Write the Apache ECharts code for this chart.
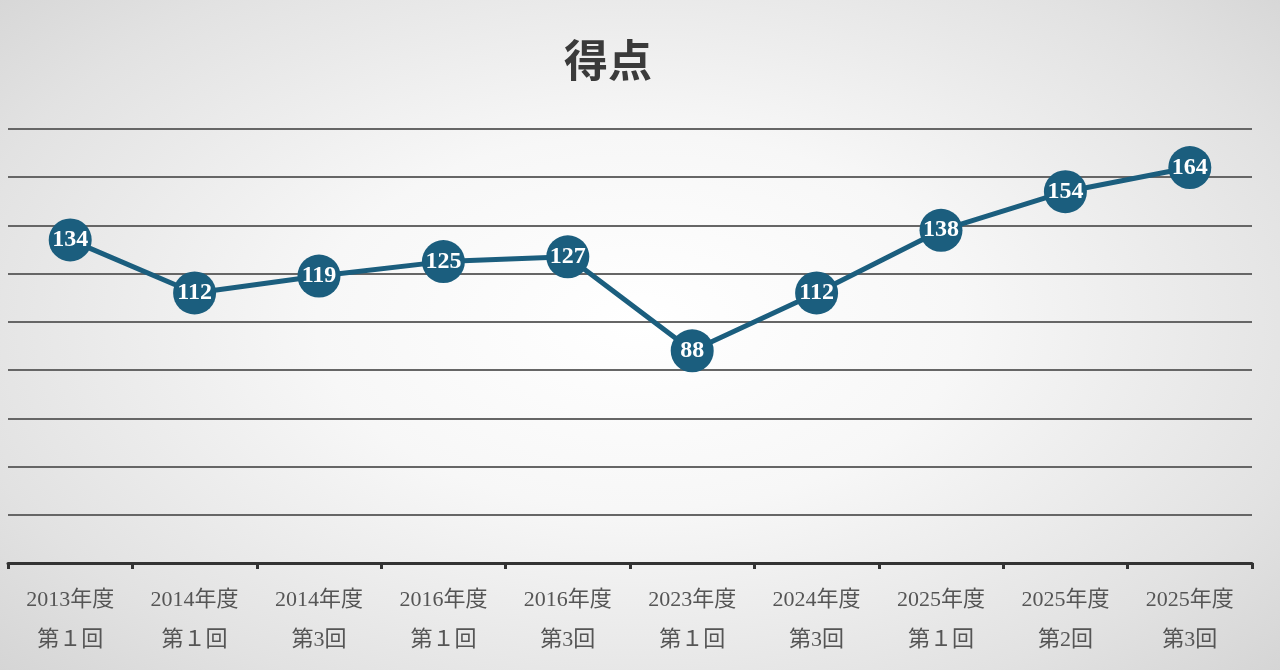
<!DOCTYPE html>
<html>
<head>
<meta charset="utf-8">
<script src="https://cdn.jsdelivr.net/npm/echarts@6/dist/echarts.min.js"></script>
<style>
html,body{margin:0;padding:0;width:1280px;height:670px;overflow:hidden;}
body{background:radial-gradient(ellipse 72% 80% at 50% 48%, #ffffff 0%, #f7f7f7 35%, #e2e2e2 75%, #d2d2d2 100%);}
#c{width:1280px;height:670px;}
</style>
</head>
<body>
<div id="c"></div>
<script>
const years = ['2013年度','2014年度','2014年度','2016年度','2016年度','2023年度','2024年度','2025年度','2025年度','2025年度'];
const rounds = ['第１回','第１回','第3回','第１回','第3回','第１回','第3回','第１回','第2回','第3回'];
const scores = [134,112,119,125,127,88,112,138,154,164];
const categories = years.map((y,i)=>y+'\n'+rounds[i]);

const chart = echarts.init(document.getElementById('c'));
chart.setOption({
  backgroundColor: 'transparent',
  title:{
    text:'得点', left:559, top:33,
    textStyle:{fontFamily:'Noto Sans CJK JP', fontSize:44, fontWeight:'bold', color:'#3a3a3a'}
  },
  grid:{left:8,right:28,top:129,bottom:107,containLabel:false},
  xAxis:{
    type:'category', data:categories, boundaryGap:true,
    axisLine:{lineStyle:{color:'#333',width:3}},
    axisTick:{show:true,length:6,lineStyle:{color:'#333',width:3}},
    axisLabel:{fontFamily:'Liberation Serif, Noto Sans CJK JP', fontSize:22, color:'#555', lineHeight:40, margin:17}
  },
  yAxis:{
    type:'value', min:0, max:180, interval:20,
    axisLabel:{show:false}, axisLine:{show:false}, axisTick:{show:false},
    splitLine:{lineStyle:{color:'#666',width:2}}
  },
  series:[{
    type:'line', data:scores,
    lineStyle:{color:'#1b5e7e',width:5},
    symbol:'circle', symbolSize:43,
    itemStyle:{color:'#1b5e7e'},
    label:{show:true, position:'inside', color:'#fff', fontSize:24, fontWeight:'bold', fontFamily:'Liberation Serif'},
    animation:false
  }],
  animation:false
});
</script>
</body>
</html>
